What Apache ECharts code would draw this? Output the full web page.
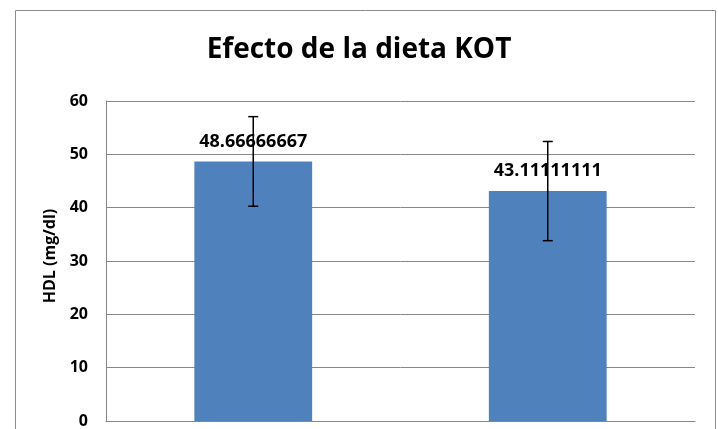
<!DOCTYPE html>
<html>
<head>
<meta charset="utf-8">
<script src="https://cdn.jsdelivr.net/npm/echarts@6/dist/echarts.min.js"></script>
<style>
html,body{margin:0;padding:0;background:#fff;}
#chart{width:718px;height:429px;}
</style>
</head>
<body>
<div id="chart"></div>
<script>
var titleText = 'Efecto de la dieta KOT';
var categories = ['Control', 'KOT'];
var meanValues = [48.66666667, 43.11111111];
var errorValues = [8.4, 9.3];
var labelTexts = ['48.66666667', '43.11111111'];
var yTicks = {min: 0, max: 60, interval: 10};
var yName = 'HDL (mg/dl)';

var FONT = '"Open Sans"';
var W = 'bold';
var chart = echarts.init(document.getElementById('chart'), null, {renderer: 'canvas'});

var errData = categories.map(function (c, i) {
  return [i, meanValues[i] - errorValues[i], meanValues[i] + errorValues[i]];
});

chart.setOption({
  backgroundColor: '#ffffff',
  animation: false,
  title: {
    text: titleText,
    left: 'center',
    top: 31,
    textStyle: {fontFamily: FONT, fontWeight: W, fontSize: 28, color: '#000'}
  },
  graphic: [{
    type: 'rect',
    shape: {x: 15.5, y: 10.5, width: 700, height: 440},
    style: {fill: 'none', stroke: '#8c8c8c', lineWidth: 1},
    silent: true,
    z: -1
  }],
  grid: {left: 106, right: 23, top: 101, bottom: 7, containLabel: false},
  xAxis: {
    type: 'category',
    data: categories,
    axisLine: {show: true, lineStyle: {color: '#878787', width: 1}},
    axisTick: {show: false},
    axisLabel: {show: false},
    splitLine: {show: false}
  },
  yAxis: {
    type: 'value',
    min: yTicks.min,
    max: yTicks.max,
    interval: yTicks.interval,
    name: yName,
    nameLocation: 'middle',
    nameGap: 44,
    nameTextStyle: {fontFamily: FONT, fontWeight: W, fontSize: 16, color: '#000', padding: [0, 0, 0, 10]},
    axisLine: {show: true, lineStyle: {color: '#878787', width: 1}},
    axisTick: {show: false},
    axisLabel: {fontFamily: FONT, fontWeight: W, fontSize: 16, color: '#000', margin: 18},
    splitLine: {show: true, lineStyle: {color: '#878787', width: 1}}
  },
  series: [{
    type: 'bar',
    data: meanValues,
    barCategoryGap: '60%',
    itemStyle: {color: '#4F81BD'},
    label: {
      show: true,
      position: 'top',
      distance: 11,
      formatter: function (p) { return labelTexts[p.dataIndex]; },
      fontFamily: FONT, fontWeight: W, fontSize: 18, color: '#000'
    },
    z: 2
  }, {
    type: 'custom',
    data: errData,
    z: 10,
    renderItem: function (params, api) {
      var x = api.value(0);
      var lo = api.coord([x, api.value(1)]);
      var hi = api.coord([x, api.value(2)]);
      var half = 5;
      var st = {stroke: '#000', lineWidth: 1.5};
      return {
        type: 'group',
        children: [
          {type: 'line', shape: {x1: hi[0], y1: hi[1], x2: lo[0], y2: lo[1]}, style: st},
          {type: 'line', shape: {x1: hi[0] - half, y1: hi[1], x2: hi[0] + half, y2: hi[1]}, style: st},
          {type: 'line', shape: {x1: lo[0] - half, y1: lo[1], x2: lo[0] + half, y2: lo[1]}, style: st}
        ]
      };
    }
  }]
});
</script>
</body>
</html>
